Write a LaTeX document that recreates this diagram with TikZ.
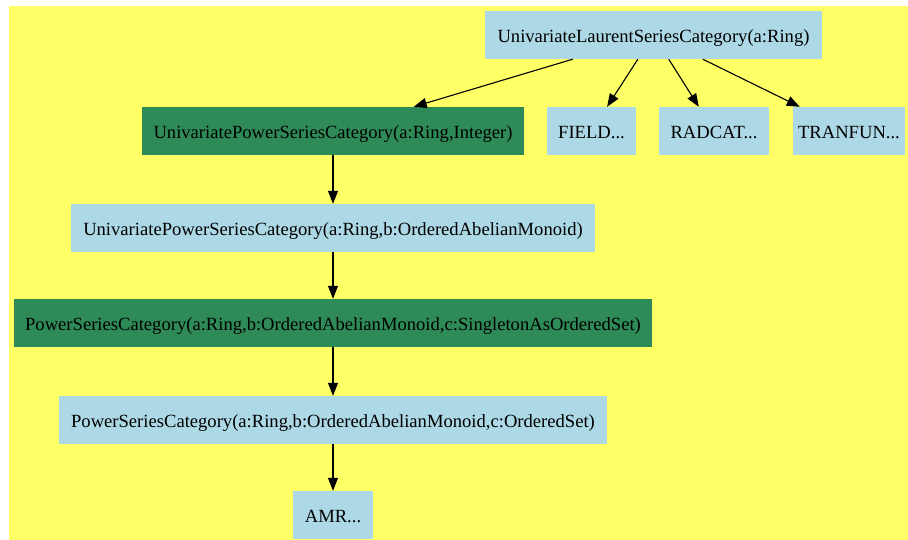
\documentclass[tikz,border=0pt]{standalone}
\usepackage{fontspec}
\setmainfont{Liberation Serif}
\usetikzlibrary{arrows.meta}
\definecolor{bgyellow}{HTML}{FFFF66}
\definecolor{catblue}{HTML}{ADD8E6}
\definecolor{catgreen}{HTML}{2E8B57}
\begin{document}
\begin{tikzpicture}[
    x=1pt, y=-1pt,
    cat/.style={fill=catblue, minimum height=48pt, inner sep=0pt, text height=15pt, text depth=0pt,
                font=\fontsize{18.6}{21}\selectfont},
    dom/.style={cat, fill=catgreen},
    edge/.style={-{Triangle[length=13pt, width=10pt]}, line width=1.1pt, draw=black},
]

% ---- 背景 ----
\useasboundingbox (0,0) rectangle (908,540);
\fill[bgyellow] (9,6) rectangle (908,540);

% ---- 第一层 ----
\node[cat, minimum width=337pt] (laurent) at (653.5,35) {UnivariateLaurentSeriesCategory(a:Ring)};

% ---- 第二层 ----
\node[dom, minimum width=382pt] (upsint)  at (333,131)   {UnivariatePowerSeriesCategory(a:Ring,Integer)};
\node[cat, minimum width=89pt]  (field)   at (591.5,131) {FIELD...};
\node[cat, minimum width=110pt] (radcat)  at (714,131)   {RADCAT...};
\node[cat, minimum width=112pt] (tranfun) at (849,131)   {TRANFUN...};

% ---- 下面的链 ----
\node[cat, minimum width=524pt] (upsoam)   at (333,228) {UnivariatePowerSeriesCategory(a:Ring,b:OrderedAbelianMonoid)};
\node[dom, minimum width=638pt] (pssingle) at (333,323) {PowerSeriesCategory(a:Ring,b:OrderedAbelianMonoid,c:SingletonAsOrderedSet)};
\node[cat, minimum width=548pt] (psord)    at (333,420) {PowerSeriesCategory(a:Ring,b:OrderedAbelianMonoid,c:OrderedSet)};
\node[cat, minimum width=80pt]  (amr)      at (333,515) {AMR...};

% ---- 箭头 ----
\foreach \dst in {upsint, field, radcat, tranfun}
    \draw[edge] (laurent) -- (\dst);
\draw[edge] (upsint) -- (upsoam);
\draw[edge] (upsoam) -- (pssingle);
\draw[edge] (pssingle) -- (psord);
\draw[edge] (psord) -- (amr);

\end{tikzpicture}
\end{document}
